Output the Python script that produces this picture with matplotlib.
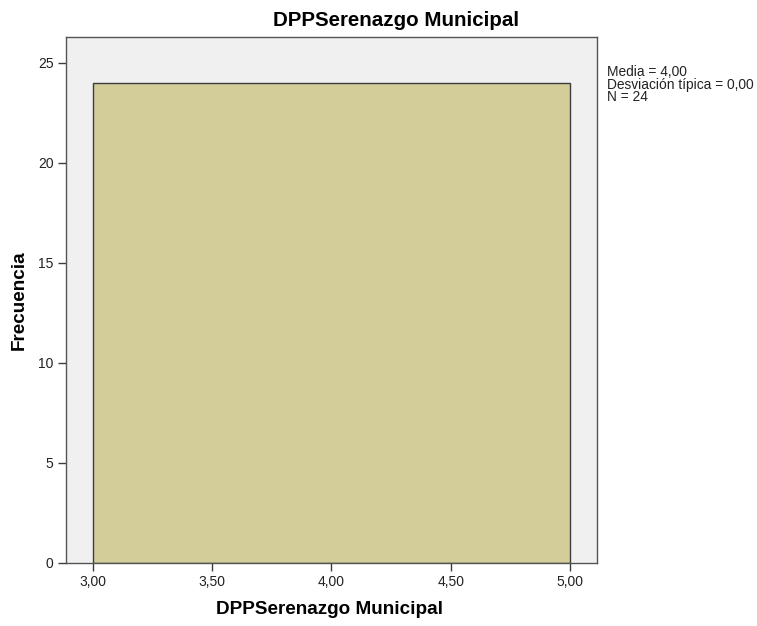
import matplotlib
matplotlib.use("Agg")
import matplotlib.pyplot as plt

plt.rcParams['font.family'] = ['Liberation Sans', 'DejaVu Sans']

bin_edges = [3.0, 5.0]
counts = [24]
xticks = [3.0, 3.5, 4.0, 4.5, 5.0]
xtick_labels = ["3,00", "3,50", "4,00", "4,50", "5,00"]
yticks = [0, 5, 10, 15, 20, 25]
stats_text = "Media = 4,00\nDesviación típica = 0,00\nN = 24"

fig = plt.figure(figsize=(7.57, 6.26), dpi=100)
ax = fig.add_axes([66/757, 1-563/626, (597-66)/757, (563-37)/626])
ax.set_facecolor('#F0F0F0')
for i, c in enumerate(counts):
    ax.bar(bin_edges[i], c, width=bin_edges[i+1]-bin_edges[i], align='edge',
           color='#D3CE99', edgecolor='#3C3C3C', linewidth=1.0)
ax.set_xlim(2.887, 5.113)
ax.set_ylim(0, 26.3)
ax.set_xticks(xticks)
ax.set_xticklabels(xtick_labels, fontsize=10)
ax.set_yticks(yticks)
ax.set_yticklabels([str(v) for v in yticks], fontsize=10)
ax.tick_params(direction='out', length=6, width=1, colors='#3C3C3C', labelcolor='#222222', pad=3)
for s in ax.spines.values():
    s.set_color('#555555')
    s.set_linewidth(1.0)
fig.text(330/757, 1-610/626, "DPPSerenazgo Municipal", ha='center', va='center',
         fontsize=13.6, fontweight='bold')
fig.text(19/757, 1-300/626, "Frecuencia", ha='center', va='center', rotation=90,
         fontsize=13.6, fontweight='bold')
fig.text(396/757, 1-20/626, "DPPSerenazgo Municipal", ha='center', va='center',
         fontsize=14.8, fontweight='bold')
fig.text(607/757, 1-65/626, stats_text, ha='left', va='top', fontsize=9.9,
         linespacing=0.88, color='#222222')
fig.savefig("out.png", dpi=100)
